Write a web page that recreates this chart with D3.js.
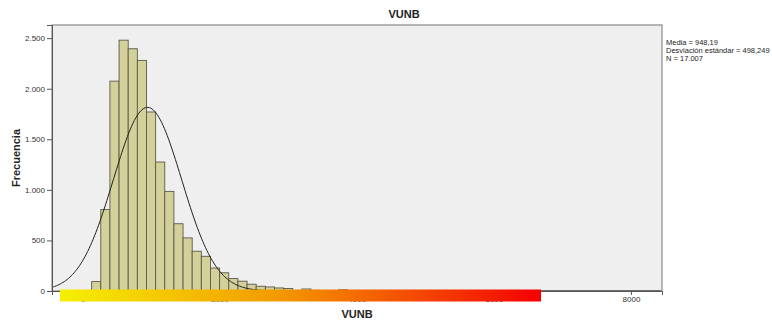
<!DOCTYPE html>
<html>
<head>
<meta charset="utf-8">
<script src="https://cdn.jsdelivr.net/npm/d3@7"></script>
<style>
  body { margin: 0; background: #fff; }
  svg text { font-family: "Liberation Sans", Arial, sans-serif; }
</style>
</head>
<body>
<div id="chart"></div>
<script>
// histogram bins (VUNB), width ~133.3
const binWidth = 8000 / 60;
const binStart = [1, 2, 3, 4, 5, 6, 7, 8, 9, 10, 11, 12, 13, 14, 15, 16, 17, 18, 19, 20, 21, 22, 23, 24, 25, 26, 27, 28, 30, 33, 36, 39, 45];
const counts = [93, 805, 2075, 2480, 2395, 2280, 1770, 1275, 985, 665, 525, 393, 343, 227, 180, 123, 97, 67, 47, 40, 30, 25, 6, 20, 6, 4, 3, 12, 4, 3, 2, 2, 2];
const yTicks = [0, 500, 1000, 1500, 2000, 2500];
const xTicks = [0, 2000, 4000, 6000, 8000];
const stats = { mean: 948.19, sd: 498.249, n: 17007 };
const legendLines = ['Media = 948,19', 'Desviación estándar = 498,249', 'N = 17.007'];

const W = 772, H = 322;
const m = { t: 25, r: 110, b: 31, l: 52 };
const svg = d3.select('#chart').append('svg').attr('width', W).attr('height', H);

const x = d3.scaleLinear().domain([-445, 8453]).range([m.l, W - m.r]);
const y = d3.scaleLinear().domain([0, 2630]).range([H - m.b, m.t]);
const fmt = v => d3.format(',')(v).replace(/,/g, '.');

// plot background
svg.append('rect')
  .attr('x', m.l).attr('y', m.t)
  .attr('width', W - m.r - m.l).attr('height', H - m.b - m.t)
  .attr('fill', '#efefef').attr('stroke', '#8a8a8a').attr('stroke-width', 1.2);

// bars
svg.append('g').selectAll('rect')
  .data(counts)
  .join('rect')
  .attr('x', (d, i) => x(binStart[i] * binWidth))
  .attr('width', (d, i) => x(binWidth) - x(0))
  .attr('y', d => y(d))
  .attr('height', d => y(0) - y(d))
  .attr('fill', '#d4d09a')
  .attr('stroke', '#5a5a4a')
  .attr('stroke-width', 0.9);

// normal curve
const pdf = v => stats.n * binWidth / (stats.sd * Math.sqrt(2 * Math.PI)) *
  Math.exp(-0.5 * Math.pow((v - stats.mean) / stats.sd, 2));
const xs = d3.range(-445, 8453, 20);
svg.append('path')
  .datum(xs)
  .attr('d', d3.line().x(v => x(v)).y(v => y(pdf(v))))
  .attr('fill', 'none').attr('stroke', '#222').attr('stroke-width', 1);

// y axis
const yAxis = svg.append('g')
  .attr('transform', `translate(${m.l},0)`)
  .call(d3.axisLeft(y).tickValues(yTicks).tickFormat(fmt).tickSize(5).tickPadding(2));
yAxis.select('.domain').attr('stroke', '#555');
yAxis.selectAll('line').attr('stroke', '#555');
yAxis.selectAll('text').attr('font-size', 8).attr('fill', '#333');

// x axis
const xAxis = svg.append('g')
  .attr('transform', `translate(0,${H - m.b})`)
  .call(d3.axisBottom(x).tickValues(xTicks).tickFormat(d3.format('d')).tickSize(4).tickPadding(1.5));
xAxis.select('.domain').attr('stroke', '#555');
xAxis.selectAll('line').attr('stroke', '#555');
xAxis.selectAll('text').attr('font-size', 8).attr('fill', '#333');

// colour strip over the axis
const grad = svg.append('defs').append('linearGradient').attr('id', 'strip');
grad.append('stop').attr('offset', '0%').attr('stop-color', '#f5f000');
grad.append('stop').attr('offset', '45%').attr('stop-color', '#f39a00');
grad.append('stop').attr('offset', '100%').attr('stop-color', '#f50000');
svg.append('rect')
  .attr('x', 60).attr('y', 289.5).attr('width', 481).attr('height', 12)
  .attr('fill', 'url(#strip)');

// titles
svg.append('text').attr('x', 404).attr('y', 18).attr('text-anchor', 'middle')
  .attr('font-size', 11).attr('font-weight', 'bold').attr('fill', '#222').text('VUNB');
svg.append('text').attr('x', 357).attr('y', 318).attr('text-anchor', 'middle')
  .attr('font-size', 11).attr('font-weight', 'bold').attr('fill', '#222').text('VUNB');
svg.append('text')
  .attr('transform', `translate(20,${(m.t + H - m.b) / 2}) rotate(-90)`)
  .attr('text-anchor', 'middle')
  .attr('font-size', 11).attr('font-weight', 'bold').attr('fill', '#222').text('Frecuencia');

// stats legend
svg.append('g').selectAll('text')
  .data(legendLines)
  .join('text')
  .attr('x', 666).attr('y', (d, i) => 45 + i * 8)
  .attr('font-size', 7.5).attr('fill', '#222')
  .text(d => d);
</script>
</body>
</html>
